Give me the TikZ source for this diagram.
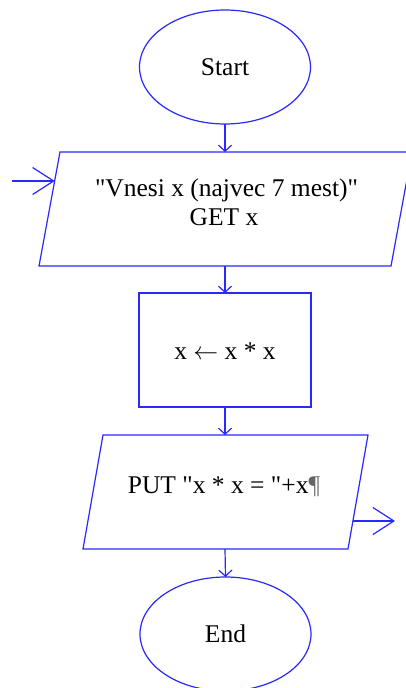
\documentclass[tikz,border=0pt]{standalone}
\usepackage{fontspec}
\setmainfont{Liberation Serif}[Ligatures=TeXOff]
\usetikzlibrary{arrows.meta,shapes.geometric}
\definecolor{fc}{RGB}{40,40,255}
\tikzset{
  line/.style={draw=fc,line width=1.2pt},
  flow/.style={line,-{Straight Barb[length=6pt,width=13pt,line width=1.2pt]}},
  ioflow/.style={line,-{Straight Barb[length=21pt,width=27pt,line width=1.2pt]}},
  term/.style={ellipse,line,minimum width=171pt,minimum height=114pt,inner sep=0pt,outer sep=0pt},
  procbox/.style={rectangle,line,minimum width=172pt,minimum height=114pt,inner sep=0pt,outer sep=0pt},
  txt/.style={font=\fontsize{25.5pt}{28.5pt}\selectfont,text=black,inner sep=0pt,align=center}
}
\begin{document}
\begin{tikzpicture}[x=1pt,y=-1pt]
\clip (0,0) rectangle (406,688);
\fill[white] (0,0) rectangle (406,688);
% Start
\node[term] (start) at (225,67) {};
\node[txt,anchor=base] (starttxt) at (225,75) {Start};
% input parallelogram
\coordinate (p1tl) at (60,152);
\coordinate (p1tr) at (412,152);
\coordinate (p1br) at (391,266);
\coordinate (p1bl) at (39,266);
\coordinate (p1n) at (225,152);
\coordinate (p1s) at (225,266);
\coordinate (p1w) at (54.7,181);
\draw[line] (p1tl) -- (p1tr) -- (p1br) -- (p1bl) -- cycle;
\node[txt,anchor=base] (p1a) at (226.5,196.7) {"Vnesi x (najvec 7 mest)"};
\node[txt,anchor=base] (p1b) at (224,225) {GET x};
\coordinate (inpt) at (12,181);
% process
\node[procbox] (proc) at (225,350) {};
\node[txt,anchor=base] (proctxt) at (225,359) {x $\leftarrow$ x * x};
% output parallelogram
\coordinate (p2tl) at (103,435);
\coordinate (p2tr) at (368,435);
\coordinate (p2br) at (348,549);
\coordinate (p2bl) at (83,549);
\coordinate (p2n) at (225,435);
\coordinate (p2s) at (225,549);
\coordinate (p2e) at (352.9,521);
\draw[line] (p2tl) -- (p2tr) -- (p2br) -- (p2bl) -- cycle;
\node[txt,anchor=base] (p2txt) at (224,493) {PUT "x * x = "+x\textcolor{black!60}{¶}};
\coordinate (outpt) at (395,521);
% End
\node[term] (end) at (225.5,634) {};
\node[txt,anchor=base] (endtxt) at (225.5,642) {End};
% connectors
\draw[flow] (start.south) -- (p1n);
\draw[ioflow] (inpt) -- (p1w);
\draw[flow] (p1s) -- (proc.north);
\draw[flow] (proc.south) -- (p2n);
\draw[ioflow] (p2e) -- (outpt);
\draw[flow] (p2s) -- (end.north);
\end{tikzpicture}
\end{document}
